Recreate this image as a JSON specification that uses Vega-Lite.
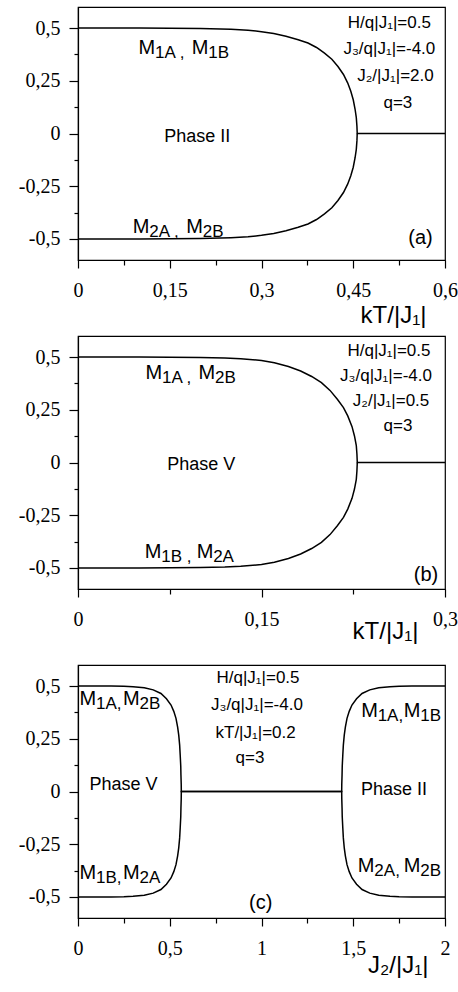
{
  "$schema": "https://vega.github.io/schema/vega-lite/v6.json",
  "padding": {"left": 17, "top": 6, "right": 0, "bottom": 0},
  "bounds": "flush",
  "spacing": 76,
  "config": {
    "view": {"stroke": "black", "strokeWidth": 1.2},
    "axis": {
      "grid": false,
      "domainColor": "black",
      "domainWidth": 1.2,
      "tickColor": "black",
      "tickWidth": 1.2,
      "labelColor": "black",
      "labelFont": "Liberation Serif",
      "labelFontSize": 20,
      "labelFlush": false,
      "labelOverlap": false,
      "titleColor": "black",
      "titleFont": "Liberation Sans",
      "titleFontSize": 24,
      "titleFontWeight": "normal"
    },
    "axisX": {"labelPadding": 12, "titleAlign": "right", "titleBaseline": "alphabetic"},
    "axisY": {"labelPadding": 9}
  },
  "datasets": {
    "curves": [
      {"panel": "a", "branch": "u", "x": 0, "y": 0.5},
      {"panel": "a", "branch": "u", "x": 0.1, "y": 0.5},
      {"panel": "a", "branch": "u", "x": 0.15, "y": 0.4995},
      {"panel": "a", "branch": "u", "x": 0.2, "y": 0.498},
      {"panel": "a", "branch": "u", "x": 0.25, "y": 0.494},
      {"panel": "a", "branch": "u", "x": 0.278, "y": 0.49},
      {"panel": "a", "branch": "u", "x": 0.3, "y": 0.483},
      {"panel": "a", "branch": "u", "x": 0.32, "y": 0.474},
      {"panel": "a", "branch": "u", "x": 0.34, "y": 0.461},
      {"panel": "a", "branch": "u", "x": 0.36, "y": 0.445},
      {"panel": "a", "branch": "u", "x": 0.376, "y": 0.429},
      {"panel": "a", "branch": "u", "x": 0.39, "y": 0.408},
      {"panel": "a", "branch": "u", "x": 0.403, "y": 0.381},
      {"panel": "a", "branch": "u", "x": 0.415, "y": 0.352},
      {"panel": "a", "branch": "u", "x": 0.425, "y": 0.318},
      {"panel": "a", "branch": "u", "x": 0.434, "y": 0.28},
      {"panel": "a", "branch": "u", "x": 0.441, "y": 0.239},
      {"panel": "a", "branch": "u", "x": 0.446, "y": 0.2},
      {"panel": "a", "branch": "u", "x": 0.45, "y": 0.16},
      {"panel": "a", "branch": "u", "x": 0.453, "y": 0.115},
      {"panel": "a", "branch": "u", "x": 0.455, "y": 0.075},
      {"panel": "a", "branch": "u", "x": 0.456, "y": 0.035},
      {"panel": "a", "branch": "u", "x": 0.4565, "y": 0},
      {"panel": "a", "branch": "u", "x": 0.6, "y": 0},
      {"panel": "a", "branch": "l", "x": 0, "y": -0.5},
      {"panel": "a", "branch": "l", "x": 0.1, "y": -0.5},
      {"panel": "a", "branch": "l", "x": 0.15, "y": -0.4995},
      {"panel": "a", "branch": "l", "x": 0.2, "y": -0.498},
      {"panel": "a", "branch": "l", "x": 0.25, "y": -0.494},
      {"panel": "a", "branch": "l", "x": 0.278, "y": -0.49},
      {"panel": "a", "branch": "l", "x": 0.3, "y": -0.483},
      {"panel": "a", "branch": "l", "x": 0.32, "y": -0.474},
      {"panel": "a", "branch": "l", "x": 0.34, "y": -0.461},
      {"panel": "a", "branch": "l", "x": 0.36, "y": -0.445},
      {"panel": "a", "branch": "l", "x": 0.376, "y": -0.429},
      {"panel": "a", "branch": "l", "x": 0.39, "y": -0.408},
      {"panel": "a", "branch": "l", "x": 0.403, "y": -0.381},
      {"panel": "a", "branch": "l", "x": 0.415, "y": -0.352},
      {"panel": "a", "branch": "l", "x": 0.425, "y": -0.318},
      {"panel": "a", "branch": "l", "x": 0.434, "y": -0.28},
      {"panel": "a", "branch": "l", "x": 0.441, "y": -0.239},
      {"panel": "a", "branch": "l", "x": 0.446, "y": -0.2},
      {"panel": "a", "branch": "l", "x": 0.45, "y": -0.16},
      {"panel": "a", "branch": "l", "x": 0.453, "y": -0.115},
      {"panel": "a", "branch": "l", "x": 0.455, "y": -0.075},
      {"panel": "a", "branch": "l", "x": 0.456, "y": -0.035},
      {"panel": "a", "branch": "l", "x": 0.4565, "y": 0},

      {"panel": "b", "branch": "u", "x": 0, "y": 0.5},
      {"panel": "b", "branch": "u", "x": 0.05, "y": 0.5},
      {"panel": "b", "branch": "u", "x": 0.075, "y": 0.4995},
      {"panel": "b", "branch": "u", "x": 0.1, "y": 0.498},
      {"panel": "b", "branch": "u", "x": 0.12, "y": 0.496},
      {"panel": "b", "branch": "u", "x": 0.133, "y": 0.492},
      {"panel": "b", "branch": "u", "x": 0.15, "y": 0.484},
      {"panel": "b", "branch": "u", "x": 0.1605, "y": 0.473},
      {"panel": "b", "branch": "u", "x": 0.172, "y": 0.455},
      {"panel": "b", "branch": "u", "x": 0.182, "y": 0.434},
      {"panel": "b", "branch": "u", "x": 0.191, "y": 0.408},
      {"panel": "b", "branch": "u", "x": 0.199, "y": 0.379},
      {"panel": "b", "branch": "u", "x": 0.206, "y": 0.342},
      {"panel": "b", "branch": "u", "x": 0.212, "y": 0.3},
      {"panel": "b", "branch": "u", "x": 0.217, "y": 0.26},
      {"panel": "b", "branch": "u", "x": 0.2205, "y": 0.221},
      {"panel": "b", "branch": "u", "x": 0.224, "y": 0.17},
      {"panel": "b", "branch": "u", "x": 0.226, "y": 0.126},
      {"panel": "b", "branch": "u", "x": 0.2275, "y": 0.08},
      {"panel": "b", "branch": "u", "x": 0.228, "y": 0.04},
      {"panel": "b", "branch": "u", "x": 0.2283, "y": 0},
      {"panel": "b", "branch": "u", "x": 0.3, "y": 0},
      {"panel": "b", "branch": "l", "x": 0, "y": -0.5},
      {"panel": "b", "branch": "l", "x": 0.05, "y": -0.5},
      {"panel": "b", "branch": "l", "x": 0.075, "y": -0.4995},
      {"panel": "b", "branch": "l", "x": 0.1, "y": -0.498},
      {"panel": "b", "branch": "l", "x": 0.12, "y": -0.496},
      {"panel": "b", "branch": "l", "x": 0.133, "y": -0.492},
      {"panel": "b", "branch": "l", "x": 0.15, "y": -0.484},
      {"panel": "b", "branch": "l", "x": 0.1605, "y": -0.473},
      {"panel": "b", "branch": "l", "x": 0.172, "y": -0.455},
      {"panel": "b", "branch": "l", "x": 0.182, "y": -0.434},
      {"panel": "b", "branch": "l", "x": 0.191, "y": -0.408},
      {"panel": "b", "branch": "l", "x": 0.199, "y": -0.379},
      {"panel": "b", "branch": "l", "x": 0.206, "y": -0.342},
      {"panel": "b", "branch": "l", "x": 0.212, "y": -0.3},
      {"panel": "b", "branch": "l", "x": 0.217, "y": -0.26},
      {"panel": "b", "branch": "l", "x": 0.2205, "y": -0.221},
      {"panel": "b", "branch": "l", "x": 0.224, "y": -0.17},
      {"panel": "b", "branch": "l", "x": 0.226, "y": -0.126},
      {"panel": "b", "branch": "l", "x": 0.2275, "y": -0.08},
      {"panel": "b", "branch": "l", "x": 0.228, "y": -0.04},
      {"panel": "b", "branch": "l", "x": 0.2283, "y": 0},

      {"panel": "c", "branch": "u", "x": 0, "y": 0.5},
      {"panel": "c", "branch": "u", "x": 0.18, "y": 0.5},
      {"panel": "c", "branch": "u", "x": 0.25, "y": 0.499},
      {"panel": "c", "branch": "u", "x": 0.3, "y": 0.497},
      {"panel": "c", "branch": "u", "x": 0.361, "y": 0.492},
      {"panel": "c", "branch": "u", "x": 0.41, "y": 0.482},
      {"panel": "c", "branch": "u", "x": 0.452, "y": 0.465},
      {"panel": "c", "branch": "u", "x": 0.482, "y": 0.44},
      {"panel": "c", "branch": "u", "x": 0.507, "y": 0.41},
      {"panel": "c", "branch": "u", "x": 0.522, "y": 0.38},
      {"panel": "c", "branch": "u", "x": 0.534, "y": 0.347},
      {"panel": "c", "branch": "u", "x": 0.543, "y": 0.305},
      {"panel": "c", "branch": "u", "x": 0.549, "y": 0.267},
      {"panel": "c", "branch": "u", "x": 0.554, "y": 0.22},
      {"panel": "c", "branch": "u", "x": 0.557, "y": 0.172},
      {"panel": "c", "branch": "u", "x": 0.56, "y": 0.12},
      {"panel": "c", "branch": "u", "x": 0.561, "y": 0.078},
      {"panel": "c", "branch": "u", "x": 0.5625, "y": 0.035},
      {"panel": "c", "branch": "u", "x": 0.563, "y": 0},
      {"panel": "c", "branch": "u", "x": 1.437, "y": 0},
      {"panel": "c", "branch": "u", "x": 1.4375, "y": 0.035},
      {"panel": "c", "branch": "u", "x": 1.439, "y": 0.078},
      {"panel": "c", "branch": "u", "x": 1.44, "y": 0.12},
      {"panel": "c", "branch": "u", "x": 1.443, "y": 0.172},
      {"panel": "c", "branch": "u", "x": 1.446, "y": 0.22},
      {"panel": "c", "branch": "u", "x": 1.451, "y": 0.267},
      {"panel": "c", "branch": "u", "x": 1.457, "y": 0.305},
      {"panel": "c", "branch": "u", "x": 1.466, "y": 0.347},
      {"panel": "c", "branch": "u", "x": 1.478, "y": 0.38},
      {"panel": "c", "branch": "u", "x": 1.493, "y": 0.41},
      {"panel": "c", "branch": "u", "x": 1.518, "y": 0.44},
      {"panel": "c", "branch": "u", "x": 1.548, "y": 0.465},
      {"panel": "c", "branch": "u", "x": 1.59, "y": 0.482},
      {"panel": "c", "branch": "u", "x": 1.639, "y": 0.492},
      {"panel": "c", "branch": "u", "x": 1.7, "y": 0.497},
      {"panel": "c", "branch": "u", "x": 1.75, "y": 0.499},
      {"panel": "c", "branch": "u", "x": 1.82, "y": 0.5},
      {"panel": "c", "branch": "u", "x": 2, "y": 0.5},
      {"panel": "c", "branch": "l", "x": 0, "y": -0.5},
      {"panel": "c", "branch": "l", "x": 0.18, "y": -0.5},
      {"panel": "c", "branch": "l", "x": 0.25, "y": -0.499},
      {"panel": "c", "branch": "l", "x": 0.3, "y": -0.497},
      {"panel": "c", "branch": "l", "x": 0.361, "y": -0.492},
      {"panel": "c", "branch": "l", "x": 0.41, "y": -0.482},
      {"panel": "c", "branch": "l", "x": 0.452, "y": -0.465},
      {"panel": "c", "branch": "l", "x": 0.482, "y": -0.44},
      {"panel": "c", "branch": "l", "x": 0.507, "y": -0.41},
      {"panel": "c", "branch": "l", "x": 0.522, "y": -0.38},
      {"panel": "c", "branch": "l", "x": 0.534, "y": -0.347},
      {"panel": "c", "branch": "l", "x": 0.543, "y": -0.305},
      {"panel": "c", "branch": "l", "x": 0.549, "y": -0.267},
      {"panel": "c", "branch": "l", "x": 0.554, "y": -0.22},
      {"panel": "c", "branch": "l", "x": 0.557, "y": -0.172},
      {"panel": "c", "branch": "l", "x": 0.56, "y": -0.12},
      {"panel": "c", "branch": "l", "x": 0.561, "y": -0.078},
      {"panel": "c", "branch": "l", "x": 0.5625, "y": -0.035},
      {"panel": "c", "branch": "l", "x": 0.563, "y": 0},
      {"panel": "c", "branch": "l", "x": 1.437, "y": 0},
      {"panel": "c", "branch": "l", "x": 1.4375, "y": -0.035},
      {"panel": "c", "branch": "l", "x": 1.439, "y": -0.078},
      {"panel": "c", "branch": "l", "x": 1.44, "y": -0.12},
      {"panel": "c", "branch": "l", "x": 1.443, "y": -0.172},
      {"panel": "c", "branch": "l", "x": 1.446, "y": -0.22},
      {"panel": "c", "branch": "l", "x": 1.451, "y": -0.267},
      {"panel": "c", "branch": "l", "x": 1.457, "y": -0.305},
      {"panel": "c", "branch": "l", "x": 1.466, "y": -0.347},
      {"panel": "c", "branch": "l", "x": 1.478, "y": -0.38},
      {"panel": "c", "branch": "l", "x": 1.493, "y": -0.41},
      {"panel": "c", "branch": "l", "x": 1.518, "y": -0.44},
      {"panel": "c", "branch": "l", "x": 1.548, "y": -0.465},
      {"panel": "c", "branch": "l", "x": 1.59, "y": -0.482},
      {"panel": "c", "branch": "l", "x": 1.639, "y": -0.492},
      {"panel": "c", "branch": "l", "x": 1.7, "y": -0.497},
      {"panel": "c", "branch": "l", "x": 1.75, "y": -0.499},
      {"panel": "c", "branch": "l", "x": 1.82, "y": -0.5},
      {"panel": "c", "branch": "l", "x": 2, "y": -0.5}
    ],
    "labels": [
      {"panel": "a", "kind": "param", "text": "H/q|J₁|=0.5", "x": 0.509, "y": 0.5},
      {"panel": "a", "kind": "param", "text": "J₃/q|J₁|=-4.0", "x": 0.509, "y": 0.378},
      {"panel": "a", "kind": "param", "text": "J₂/|J₁|=2.0", "x": 0.519, "y": 0.247},
      {"panel": "a", "kind": "param", "text": "q=3", "x": 0.523, "y": 0.122},
      {"panel": "a", "kind": "phase", "text": "Phase II", "x": 0.195, "y": -0.042},
      {"panel": "a", "kind": "tag", "text": "(a)", "x": 0.56, "y": -0.522},
      {"panel": "b", "kind": "param", "text": "H/q|J₁|=0.5", "x": 0.2542, "y": 0.505},
      {"panel": "b", "kind": "param", "text": "J₃/q|J₁|=-4.0", "x": 0.2518, "y": 0.386},
      {"panel": "b", "kind": "param", "text": "J₂/|J₁|=0.5", "x": 0.2559, "y": 0.268},
      {"panel": "b", "kind": "param", "text": "q=3", "x": 0.2616, "y": 0.148},
      {"panel": "b", "kind": "phase", "text": "Phase V", "x": 0.1008, "y": -0.036},
      {"panel": "b", "kind": "tag", "text": "(b)", "x": 0.2845, "y": -0.56},
      {"panel": "c", "kind": "param", "text": "H/q|J₁|=0.5", "x": 0.981, "y": 0.513},
      {"panel": "c", "kind": "param", "text": "J₃/q|J₁|=-4.0", "x": 0.975, "y": 0.386},
      {"panel": "c", "kind": "param", "text": "kT/|J₁|=0.2", "x": 0.968, "y": 0.252},
      {"panel": "c", "kind": "param", "text": "q=3", "x": 0.937, "y": 0.133},
      {"panel": "c", "kind": "phase", "text": "Phase V", "x": 0.248, "y": 0.006},
      {"panel": "c", "kind": "phase", "text": "Phase II", "x": 1.722, "y": -0.017},
      {"panel": "c", "kind": "tag", "text": "(c)", "x": 0.996, "y": -0.555}
    ],
    "mlabels": [
      {"panel": "a", "x": 0.099, "y": 0.377, "main": "M", "sub": "1A ,"},
      {"panel": "a", "x": 0.186, "y": 0.377, "main": "M", "sub": "1B"},
      {"panel": "a", "x": 0.0897, "y": -0.472, "main": "M", "sub": "2A ,"},
      {"panel": "a", "x": 0.177, "y": -0.472, "main": "M", "sub": "2B"},
      {"panel": "b", "x": 0.0552, "y": 0.398, "main": "M", "sub": "1A ,"},
      {"panel": "b", "x": 0.0985, "y": 0.398, "main": "M", "sub": "2B"},
      {"panel": "b", "x": 0.0546, "y": -0.454, "main": "M", "sub": "1B ,"},
      {"panel": "b", "x": 0.097, "y": -0.454, "main": "M", "sub": "2A"},
      {"panel": "c", "x": 0.008, "y": 0.41, "main": "M", "sub": "1A,"},
      {"panel": "c", "x": 0.245, "y": 0.41, "main": "M", "sub": "2B"},
      {"panel": "c", "x": 0.008, "y": -0.413, "main": "M", "sub": "1B,"},
      {"panel": "c", "x": 0.245, "y": -0.413, "main": "M", "sub": "2A"},
      {"panel": "c", "x": 1.543, "y": 0.355, "main": "M", "sub": "1A,"},
      {"panel": "c", "x": 1.775, "y": 0.355, "main": "M", "sub": "1B"},
      {"panel": "c", "x": 1.525, "y": -0.381, "main": "M", "sub": "2A,"},
      {"panel": "c", "x": 1.775, "y": -0.381, "main": "M", "sub": "2B"}
    ]
  },
  "vconcat": [
    {
      "width": 367,
      "height": 253,
      "encoding": {
        "x": {
          "field": "x", "type": "quantitative",
          "scale": {"domain": [0, 0.6], "nice": false, "zero": false},
          "axis": {
            "values": [0, 0.075, 0.15, 0.225, 0.3, 0.375, 0.45, 0.525, 0.6],
            "labelExpr": "abs(datum.value/0.15 - round(datum.value/0.15)) < 0.001 ? replace(toString(datum.value), '.', ',') : ''",
            "tickSize": {"condition": {"test": "abs(datum.value/0.15 - round(datum.value/0.15)) > 0.001", "value": 5}, "value": 8},
            "title": "kT/|J₁|",
            "titleX": 348,
            "titleY": 62
          }
        },
        "y": {
          "field": "y", "type": "quantitative",
          "scale": {"domain": [-0.6, 0.6], "nice": false, "zero": false},
          "axis": {
            "values": [-0.5, -0.375, -0.25, -0.125, 0, 0.125, 0.25, 0.375, 0.5],
            "labelExpr": "abs(datum.value*4 - round(datum.value*4)) < 0.001 ? replace(toString(datum.value), '.', ',') : ''",
            "tickSize": {"condition": {"test": "abs(datum.value*4 - round(datum.value*4)) > 0.001", "value": 4}, "value": 9},
            "title": null
          }
        }
      },
      "layer": [
        {
          "data": {"name": "curves"},
          "transform": [{"filter": "datum.panel == 'a'"}],
          "mark": {"type": "line", "color": "black", "strokeWidth": 1.5},
          "encoding": {"detail": {"field": "branch"}}
        },
        {
          "data": {"name": "labels"},
          "transform": [{"filter": "datum.panel == 'a' && datum.kind == 'param'"}],
          "mark": {"type": "text", "font": "Liberation Sans", "fontSize": 17, "align": "center", "baseline": "alphabetic", "color": "black"},
          "encoding": {"text": {"field": "text"}}
        },
        {
          "data": {"name": "labels"},
          "transform": [{"filter": "datum.panel == 'a' && datum.kind == 'phase'"}],
          "mark": {"type": "text", "font": "Liberation Sans", "fontSize": 18, "align": "center", "baseline": "alphabetic", "color": "black"},
          "encoding": {"text": {"field": "text"}}
        },
        {
          "data": {"name": "labels"},
          "transform": [{"filter": "datum.panel == 'a' && datum.kind == 'tag'"}],
          "mark": {"type": "text", "font": "Liberation Sans", "fontSize": 20, "align": "center", "baseline": "alphabetic", "color": "black"},
          "encoding": {"text": {"field": "text"}}
        },
        {
          "data": {"name": "mlabels"},
          "transform": [{"filter": "datum.panel == 'a'"}],
          "mark": {"type": "text", "font": "Liberation Sans", "fontSize": 20, "align": "left", "baseline": "alphabetic", "color": "black"},
          "encoding": {"text": {"field": "main"}}
        },
        {
          "data": {"name": "mlabels"},
          "transform": [{"filter": "datum.panel == 'a'"}],
          "mark": {"type": "text", "font": "Liberation Sans", "fontSize": 17, "align": "left", "baseline": "alphabetic", "dx": 16.5, "dy": 4, "color": "black"},
          "encoding": {"text": {"field": "sub"}}
        }
      ]
    },
    {
      "width": 367,
      "height": 253,
      "encoding": {
        "x": {
          "field": "x", "type": "quantitative",
          "scale": {"domain": [0, 0.3], "nice": false, "zero": false},
          "axis": {
            "values": [0, 0.075, 0.15, 0.225, 0.3],
            "labelExpr": "abs(datum.value/0.15 - round(datum.value/0.15)) < 0.001 ? replace(toString(datum.value), '.', ',') : ''",
            "tickSize": {"condition": {"test": "abs(datum.value/0.15 - round(datum.value/0.15)) > 0.001", "value": 5}, "value": 8},
            "title": "kT/|J₁|",
            "titleX": 340,
            "titleY": 49
          }
        },
        "y": {
          "field": "y", "type": "quantitative",
          "scale": {"domain": [-0.6, 0.6], "nice": false, "zero": false},
          "axis": {
            "values": [-0.5, -0.375, -0.25, -0.125, 0, 0.125, 0.25, 0.375, 0.5],
            "labelExpr": "abs(datum.value*4 - round(datum.value*4)) < 0.001 ? replace(toString(datum.value), '.', ',') : ''",
            "tickSize": {"condition": {"test": "abs(datum.value*4 - round(datum.value*4)) > 0.001", "value": 4}, "value": 9},
            "title": null
          }
        }
      },
      "layer": [
        {
          "data": {"name": "curves"},
          "transform": [{"filter": "datum.panel == 'b'"}],
          "mark": {"type": "line", "color": "black", "strokeWidth": 1.5},
          "encoding": {"detail": {"field": "branch"}}
        },
        {
          "data": {"name": "labels"},
          "transform": [{"filter": "datum.panel == 'b' && datum.kind == 'param'"}],
          "mark": {"type": "text", "font": "Liberation Sans", "fontSize": 17, "align": "center", "baseline": "alphabetic", "color": "black"},
          "encoding": {"text": {"field": "text"}}
        },
        {
          "data": {"name": "labels"},
          "transform": [{"filter": "datum.panel == 'b' && datum.kind == 'phase'"}],
          "mark": {"type": "text", "font": "Liberation Sans", "fontSize": 18, "align": "center", "baseline": "alphabetic", "color": "black"},
          "encoding": {"text": {"field": "text"}}
        },
        {
          "data": {"name": "labels"},
          "transform": [{"filter": "datum.panel == 'b' && datum.kind == 'tag'"}],
          "mark": {"type": "text", "font": "Liberation Sans", "fontSize": 20, "align": "center", "baseline": "alphabetic", "color": "black"},
          "encoding": {"text": {"field": "text"}}
        },
        {
          "data": {"name": "mlabels"},
          "transform": [{"filter": "datum.panel == 'b'"}],
          "mark": {"type": "text", "font": "Liberation Sans", "fontSize": 20, "align": "left", "baseline": "alphabetic", "color": "black"},
          "encoding": {"text": {"field": "main"}}
        },
        {
          "data": {"name": "mlabels"},
          "transform": [{"filter": "datum.panel == 'b'"}],
          "mark": {"type": "text", "font": "Liberation Sans", "fontSize": 17, "align": "left", "baseline": "alphabetic", "dx": 16.5, "dy": 4, "color": "black"},
          "encoding": {"text": {"field": "sub"}}
        }
      ]
    },
    {
      "width": 367,
      "height": 253,
      "encoding": {
        "x": {
          "field": "x", "type": "quantitative",
          "scale": {"domain": [0, 2], "nice": false, "zero": false},
          "axis": {
            "values": [0, 0.25, 0.5, 0.75, 1, 1.25, 1.5, 1.75, 2],
            "labelExpr": "abs(datum.value*2 - round(datum.value*2)) < 0.001 ? replace(toString(datum.value), '.', ',') : ''",
            "tickSize": {"condition": {"test": "abs(datum.value*2 - round(datum.value*2)) > 0.001", "value": 5}, "value": 8},
            "title": "J₂/|J₁|",
            "titleX": 350,
            "titleY": 54
          }
        },
        "y": {
          "field": "y", "type": "quantitative",
          "scale": {"domain": [-0.6, 0.6], "nice": false, "zero": false},
          "axis": {
            "values": [-0.5, -0.375, -0.25, -0.125, 0, 0.125, 0.25, 0.375, 0.5],
            "labelExpr": "abs(datum.value*4 - round(datum.value*4)) < 0.001 ? replace(toString(datum.value), '.', ',') : ''",
            "tickSize": {"condition": {"test": "abs(datum.value*4 - round(datum.value*4)) > 0.001", "value": 4}, "value": 9},
            "title": null
          }
        }
      },
      "layer": [
        {
          "data": {"name": "curves"},
          "transform": [{"filter": "datum.panel == 'c'"}],
          "mark": {"type": "line", "color": "black", "strokeWidth": 1.5},
          "encoding": {"detail": {"field": "branch"}}
        },
        {
          "data": {"name": "labels"},
          "transform": [{"filter": "datum.panel == 'c' && datum.kind == 'param'"}],
          "mark": {"type": "text", "font": "Liberation Sans", "fontSize": 17, "align": "center", "baseline": "alphabetic", "color": "black"},
          "encoding": {"text": {"field": "text"}}
        },
        {
          "data": {"name": "labels"},
          "transform": [{"filter": "datum.panel == 'c' && datum.kind == 'phase'"}],
          "mark": {"type": "text", "font": "Liberation Sans", "fontSize": 18, "align": "center", "baseline": "alphabetic", "color": "black"},
          "encoding": {"text": {"field": "text"}}
        },
        {
          "data": {"name": "labels"},
          "transform": [{"filter": "datum.panel == 'c' && datum.kind == 'tag'"}],
          "mark": {"type": "text", "font": "Liberation Sans", "fontSize": 20, "align": "center", "baseline": "alphabetic", "color": "black"},
          "encoding": {"text": {"field": "text"}}
        },
        {
          "data": {"name": "mlabels"},
          "transform": [{"filter": "datum.panel == 'c'"}],
          "mark": {"type": "text", "font": "Liberation Sans", "fontSize": 20, "align": "left", "baseline": "alphabetic", "color": "black"},
          "encoding": {"text": {"field": "main"}}
        },
        {
          "data": {"name": "mlabels"},
          "transform": [{"filter": "datum.panel == 'c'"}],
          "mark": {"type": "text", "font": "Liberation Sans", "fontSize": 17, "align": "left", "baseline": "alphabetic", "dx": 16.5, "dy": 4, "color": "black"},
          "encoding": {"text": {"field": "sub"}}
        }
      ]
    }
  ]
}
